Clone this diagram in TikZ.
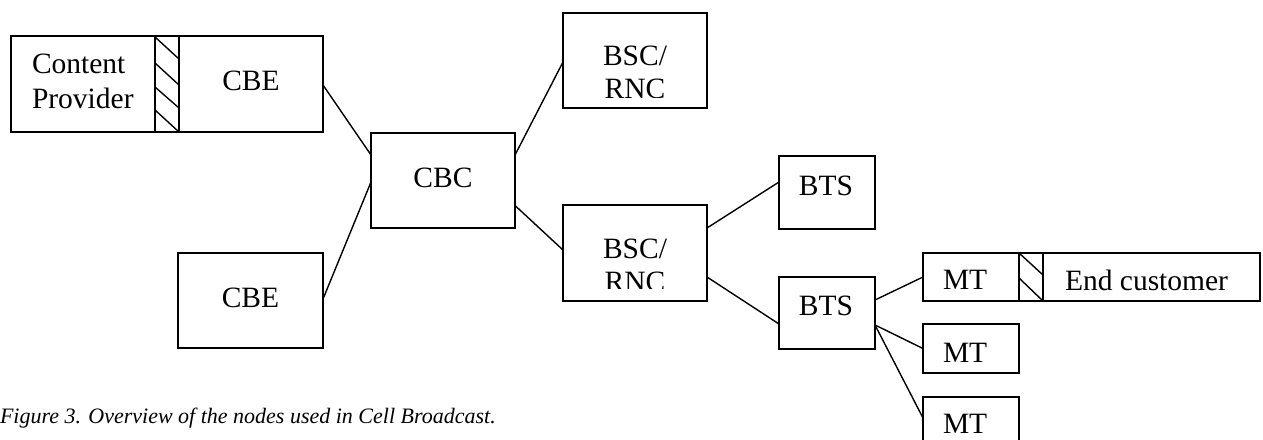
\documentclass[tikz,border=0pt]{standalone}
\usepackage{fontspec}
\setmainfont{Liberation Serif}
\begin{document}
\begin{tikzpicture}[x=1pt,y=-1pt,
  box/.style={draw, line width=1.6pt, inner sep=0pt, outer sep=0pt},
  txt/.style={inner sep=0pt, outer sep=0pt, font=\fontsize{29.5}{34}\selectfont},
  captxt/.style={inner sep=0pt, outer sep=0pt, font=\fontsize{22}{26}\selectfont\itshape},
  link/.style={line width=1.4pt},
  hatch/.style={line width=1.4pt}]
\useasboundingbox (0,0) rectangle (1263,439);
\clip (0,0) rectangle (1263,439);
% boxes
\node[box, minimum width=144pt, minimum height=96pt] (cp) at (83,84) {};
\node[box, minimum width=24pt, minimum height=96pt] (h1) at (167,84) {};
\node[box, minimum width=144pt, minimum height=96pt] (cbe1) at (251,84) {};
\node[box, minimum width=145pt, minimum height=95pt] (cbe2) at (250.5,300.5) {};
\node[box, minimum width=144pt, minimum height=95pt] (cbc) at (443,180.5) {};
\node[box, minimum width=144pt, minimum height=95pt] (bsc1) at (635,60.5) {};
\node[box, minimum width=144pt, minimum height=96pt] (bsc2) at (635,253) {};
\node[box, minimum width=96pt, minimum height=73pt] (bts1) at (827,192.5) {};
\node[box, minimum width=96pt, minimum height=72pt] (bts2) at (827,313) {};
\node[box, minimum width=96pt, minimum height=48pt] (mt1) at (971,277) {};
\node[box, minimum width=24pt, minimum height=48pt] (h2) at (1031,277) {};
\node[box, minimum width=217pt, minimum height=48pt] (ec) at (1151.5,277) {};
\node[box, minimum width=96pt, minimum height=49pt] (mt2) at (971,348.5) {};
\node[box, minimum width=96pt, minimum height=48pt] (mt3) at (971,421) {};
% hatching
\begin{scope}[shift={(h1.north west)}]
  \draw[hatch] (0,1) -- (24,23) (0,27) -- (24,49) (0,51) -- (24,72) (0,74) -- (24,96);
\end{scope}
\begin{scope}[shift={(h2.north west)}]
  \draw[hatch] (0,0) -- (24,22) (0,25) -- (24,48);
\end{scope}
% texts
\node[txt, anchor=base west] (tcp1) at (32,73) {Content};
\node[txt, anchor=base west] (tcp2) at (32,108) {Provider};
\node[txt, anchor=base] (tcbe1) at (251,90) {CBE};
\node[txt, anchor=base] (tcbe2) at (250.5,307) {CBE};
\node[txt, anchor=base] (tcbc) at (443,187) {CBC};
\node[txt, anchor=base] (tbsc1a) at (635,65) {BSC/};
\begin{scope}
  \clip (bsc1.north west) rectangle ([yshift=11pt]bsc1.south east);
  \node[txt, anchor=base] (tbsc1b) at (635,98) {RNC};
\end{scope}
\node[txt, anchor=base] (tbsc2a) at (635,258) {BSC/};
\begin{scope}
  \clip (bsc2.north west) rectangle ([yshift=13pt]bsc2.south east);
  \node[txt, anchor=base] (tbsc2b) at (635,291) {RNC};
\end{scope}
\node[txt, anchor=base] (tbts1) at (826,195) {BTS};
\node[txt, anchor=base] (tbts2) at (826,315) {BTS};
\node[txt, anchor=base west] (tmt1) at (943,289) {MT};
\node[txt, anchor=base west] (tmt2) at (943,362) {MT};
\node[txt, anchor=base west] (tmt3) at (943,433) {MT};
\node[txt, anchor=base west] (tec) at (1065,290) {End customer};
\node[captxt, anchor=base west] (caption) at (0,423) {Figure 3. Overview of the nodes used in Cell Broadcast.};
% connectors
\draw[link] ([yshift=-1pt]cbe1.east) -- ([yshift=25.5pt]cbc.west);
\draw[link] ([yshift=1.5pt]cbe2.east) -- ([yshift=-1.5pt]cbc.west);
\draw[link] ([yshift=25.5pt]cbc.east) -- ([yshift=-1.5pt]bsc1.west);
\draw[link] ([yshift=-25pt]cbc.east) -- ([yshift=3pt]bsc2.west);
\draw[link] ([yshift=25pt]bsc2.east) -- ([yshift=10.5pt]bts1.west);
\draw[link] ([yshift=-24pt]bsc2.east) -- ([yshift=-11pt]bts2.west);
\draw[link] ([yshift=13pt]bts2.east) -- (mt1.west);
\draw[link] ([yshift=-12pt]bts2.east) -- (mt2.west);
\draw[link] ([yshift=-12pt]bts2.east) -- ([yshift=3pt]mt3.west);
\end{tikzpicture}
\end{document}
